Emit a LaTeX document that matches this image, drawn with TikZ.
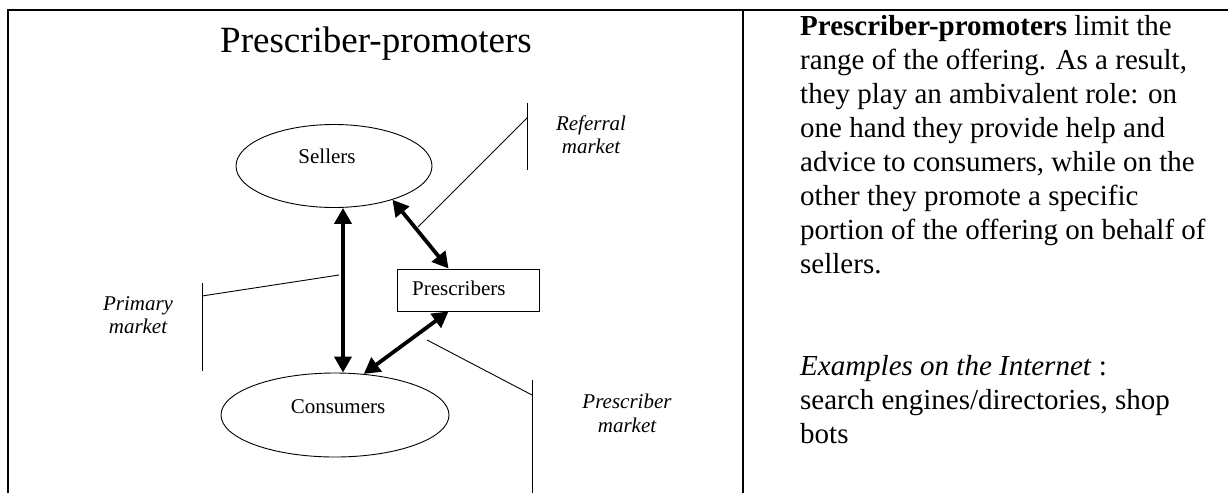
\documentclass[tikz,border=0pt]{standalone}
\usepackage{fontspec}
\setmainfont{Liberation Serif}
\usetikzlibrary{arrows.meta,shapes.geometric,calc}
\begin{document}
\begin{tikzpicture}[x=1pt,y=-1pt,
  frameline/.style={line width=1.6pt},
  thinline/.style={line width=0.9pt},
  oval/.style={draw,ellipse,line width=0.9pt,inner sep=0pt},
  bigarrow/.style={line width=3.8pt,{Triangle[length=16pt,width=17pt]}-{Triangle[length=16pt,width=17pt]}},
  nodetext/.style={font=\fontsize{21}{23}\selectfont,anchor=base,inner sep=0pt},
  mktext/.style={font=\fontsize{21}{23}\selectfont\itshape,anchor=base,inner sep=0pt},
  body/.style={font=\fontsize{29}{34}\selectfont,anchor=base west,inner sep=0pt},
  titletext/.style={font=\fontsize{37}{42}\selectfont,anchor=base,inner sep=0pt}]
\useasboundingbox (0,0) rectangle (1228,493);
% frame
\draw[frameline] (8,493) -- (8,10) -- (1228,10);
\draw[frameline] (743,10) -- (743,493);
% title
\node[titletext] (title) at (376,52) {Prescriber-promoters};
% nodes
\node[oval,minimum width=196pt,minimum height=83pt] (sellers) at (334,166) {};
\node[nodetext] (sellerslbl) at (327,163) {Sellers};
\node[oval,minimum width=228pt,minimum height=84pt] (consumers) at (335,415) {};
\node[nodetext] (consumerslbl) at (338,413) {Consumers};
\node[draw,thinline,minimum width=142pt,minimum height=42pt,inner sep=0pt] (presc) at (468,290) {};
\node[nodetext,anchor=base west] (presclbl) at (412,295) {Prescribers};
% arrows
\draw[bigarrow] ($(sellers.south)+(9,0)$) -- ($(consumers.north)+(8,0)$);
\draw[bigarrow] (sellers.-30) -- ($(presc.north west)+(52,0)$);
\draw[bigarrow] ($(presc.south west)+(52,0)$) -- (consumers.55);
% referral market
\coordinate (refTop) at (527,103);
\coordinate (refBot) at (527,170);
\coordinate (refJoin) at (527,118);
\coordinate (refEnd) at (418,227);
\draw[thinline] (refTop) -- (refBot);
\draw[thinline] (refJoin) -- (refEnd);
\node[mktext] (ref1) at (591,130) {Referral};
\node[mktext] (ref2) at (591,153) {market};
% primary market
\coordinate (primTop) at (202,283);
\coordinate (primBot) at (202,371);
\coordinate (primJoin) at (202,296);
\coordinate (primEnd) at (339,275);
\draw[thinline] (primTop) -- (primBot);
\draw[thinline] (primJoin) -- (primEnd);
\node[mktext] (prim1) at (138,310) {Primary};
\node[mktext] (prim2) at (138,333) {market};
% prescriber market
\coordinate (pmTop) at (532,380);
\coordinate (pmBot) at (532,493);
\coordinate (pmJoin) at (532,395);
\coordinate (pmEnd) at (427,340);
\draw[thinline] (pmTop) -- (pmBot);
\draw[thinline] (pmJoin) -- (pmEnd);
\node[mktext] (pm1) at (627,408) {Prescriber};
\node[mktext] (pm2) at (627,432) {market};
% right column
\node[body] (r1) at (800,35) {\textbf{Prescriber-promoters} limit the};
\node[body] (r2) at (800,69) {range of the offering. As a result,};
\node[body] (r3) at (800,103) {they play an ambivalent role: on};
\node[body] (r4) at (800,137) {one hand they provide help and};
\node[body] (r5) at (800,171) {advice to consumers, while on the};
\node[body] (r6) at (800,205) {other they promote a specific};
\node[body] (r7) at (800,239) {portion of the offering on behalf of};
\node[body] (r8) at (800,273) {sellers.};
\node[body] (r9) at (800,375) {\textit{Examples on the Internet} :};
\node[body] (r10) at (800,409) {search engines/directories, shop};
\node[body] (r11) at (800,443) {bots};
\end{tikzpicture}
\end{document}
